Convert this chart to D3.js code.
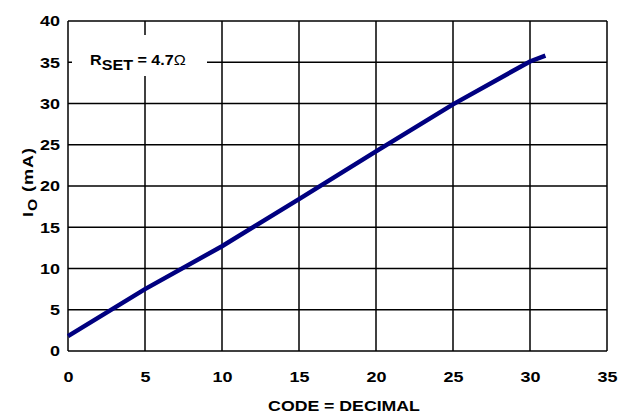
<!doctype html>
<html lang="en">
<head>
  <meta charset="utf-8">
  <title>IO vs code</title>
  <style>
    body { margin: 0; background: #fff; }
    svg { display: block; font-family: "Liberation Sans", Arial, sans-serif; font-weight: bold; }
    .grid line { stroke: #000; stroke-width: 1.5; }
    .tick text { font-size: 15.5px; fill: #000; }
  </style>
</head>
<body>
  <script src="https://cdnjs.cloudflare.com/ajax/libs/d3/7.8.5/d3.min.js"></script>
  <script>

  // values
  var codes = [0, 5, 10, 15, 20, 25, 30, 31];
  var current = [1.8, 7.5, 12.7, 18.4, 24.2, 29.9, 35.1, 35.8];
  var xTicks = [0, 5, 10, 15, 20, 25, 30, 35];
  var yTicks = [0, 5, 10, 15, 20, 25, 30, 35, 40];

  var width = 618, height = 418;
  var margin = {top: 21, right: 11, bottom: 67, left: 68};

  var svg = d3.select("body").append("svg")
      .attr("width", width)
      .attr("height", height);

  var x = d3.scaleLinear().domain([0, 35]).range([margin.left, width - margin.right]);
  var y = d3.scaleLinear().domain([0, 40]).range([height - margin.bottom, margin.top]);

  // grid
  var grid = svg.append("g").attr("class", "grid");
  grid.selectAll(".vx").data(xTicks).enter().append("line")
      .attr("x1", function(d){ return x(d); })
      .attr("x2", function(d){ return x(d); })
      .attr("y1", y(0)).attr("y2", y(40));
  grid.selectAll(".hy").data(yTicks).enter().append("line")
      .attr("y1", function(d){ return y(d); })
      .attr("y2", function(d){ return y(d); })
      .attr("x1", x(0)).attr("x2", x(35));

  // axes (labels only), text stretched a bit wider like the original
  var xAxis = svg.append("g")
      .attr("transform", "translate(0,382)")
      .call(d3.axisBottom(x).tickValues(xTicks).tickSize(0).tickPadding(0));
  xAxis.select(".domain").remove();
  xAxis.selectAll("text").attr("dy", 0).attr("y", 0)
      .attr("transform", "scale(1.16,1)");

  var yAxis = svg.append("g")
      .attr("transform", "translate(" + (x(0) - 8) + ",0)")
      .call(d3.axisLeft(y).tickValues(yTicks).tickSize(0).tickPadding(0));
  yAxis.select(".domain").remove();
  yAxis.selectAll("text").attr("transform", "scale(1.16,1)");

  // label box
  svg.append("rect")
      .attr("x", 72).attr("y", 35)
      .attr("width", 135).attr("height", 41)
      .attr("fill", "#fff");
  var lab = svg.append("text")
      .attr("transform", "translate(90,65) scale(1.04,1)")
      .attr("font-size", 15.5);
  lab.append("tspan").text("R");
  lab.append("tspan").attr("dy", 5).text("SET");
  lab.append("tspan").attr("dy", -5).text(" = 4.7");
  lab.append("tspan").attr("font-weight", "normal").text("Ω");

  // data line
  var line = d3.line()
      .x(function(d, i){ return x(codes[i]); })
      .y(function(d){ return y(d); });
  svg.append("path")
      .datum(current)
      .attr("d", line)
      .attr("fill", "none")
      .attr("stroke", "#000080")
      .attr("stroke-width", 4.5);

  // titles
  svg.append("text")
      .attr("transform", "translate(344,411) scale(1.18,1)")
      .attr("text-anchor", "middle")
      .attr("font-size", 15)
      .text("CODE = DECIMAL");

  var yt = svg.append("text")
      .attr("transform", "translate(33,182) rotate(-90) scale(1.2,1)")
      .attr("text-anchor", "middle")
      .attr("font-size", 15)
      .attr("letter-spacing", 0.8);
  yt.append("tspan").text("I");
  yt.append("tspan").attr("dy", 4).attr("font-size", 13).text("O");
  yt.append("tspan").attr("dy", -4).text(" (mA)");

  </script>
</body>
</html>
